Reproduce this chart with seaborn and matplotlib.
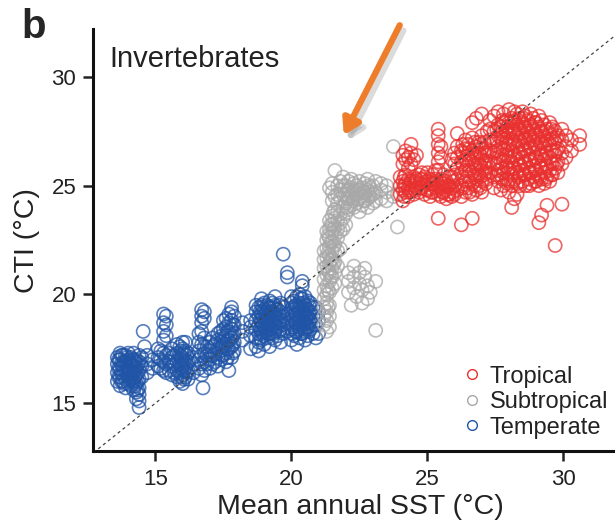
import pandas as pd
import matplotlib
matplotlib.use("Agg")
import matplotlib.pyplot as plt
import seaborn as sns
from matplotlib.lines import Line2D

# Values: each entry is (SST, [CTI values at that SST])
temperate_cols = [
    (13.6, [16.0, 16.4, 16.8, 17.1]),
    (13.7, [15.8, 16.2, 16.6, 17.0, 17.3]),
    (13.8, [16.0, 16.3, 16.7, 17.2]),
    (13.9, [15.7, 16.1, 16.5, 16.9, 17.2]),
    (14.0, [15.9, 16.3, 16.6, 17.0, 17.3]),
    (14.1, [15.8, 16.2, 16.5, 16.8, 17.1]),
    (14.2, [15.6, 16.0, 16.4, 16.7, 17.0, 17.3]),
    (14.3, [15.2, 15.5, 15.9, 16.3, 16.6, 17.0]),
    (14.4, [14.8, 15.1, 15.4, 15.7, 16.1, 16.5, 16.9, 17.2]),
    (14.5, [16.2, 16.7, 17.1]),
    (14.55, [18.3]),
    (14.6, [17.6]),
    (14.7, [16.4, 16.8, 17.2]),
    (14.9, [16.6, 17.0]),
    (15.1, [16.7, 17.1, 17.5]),
    (15.3, [16.5, 16.9, 17.3, 17.9, 18.3, 18.7, 19.1]),
    (15.4, [16.4, 16.8, 17.2, 18.1, 18.6, 19.0]),
    (15.6, [16.3, 16.7, 17.1, 17.5]),
    (15.8, [16.2, 16.5, 16.9, 17.3, 17.7]),
    (15.9, [16.0, 16.4, 16.8, 17.2, 17.6]),
    (16.0, [15.9, 16.3, 16.7, 17.1, 17.5, 17.8]),
    (16.1, [16.2, 16.6, 17.0, 17.4, 17.8]),
    (16.2, [16.1, 16.5, 16.9, 17.3]),
    (16.4, [16.4, 16.8, 17.1]),
    (16.6, [16.6, 17.0, 17.4, 17.8, 18.2]),
    (16.7, [16.3, 16.8, 17.2, 17.7, 18.3, 18.7, 19.0, 19.3]),
    (16.75, [15.7]),
    (16.8, [16.5, 16.9, 17.3, 17.6, 18.0, 18.9, 19.2]),
    (17.0, [16.6, 17.0, 17.4, 17.8]),
    (17.1, [16.8, 17.2, 17.6, 18.0]),
    (17.3, [16.7, 17.1, 17.5, 17.9, 18.2]),
    (17.4, [17.0, 17.4, 17.8, 18.3]),
    (17.5, [17.2, 17.6, 18.0, 18.4, 18.8]),
    (17.6, [16.9, 17.3, 17.7, 18.1, 18.5, 18.9]),
    (17.7, [16.5, 17.5, 17.9, 18.3, 18.7, 19.1]),
    (17.8, [17.1, 17.6, 18.0, 18.4, 18.8, 19.2, 19.4]),
    (17.9, [17.4, 17.8, 18.2, 18.6, 19.0]),
    (18.2, [17.9, 18.3, 18.7]),
    (18.5, [17.5, 18.1, 18.5, 18.8]),
    (18.7, [17.6, 18.0, 18.4, 18.8, 19.2, 19.5]),
    (18.8, [17.4, 17.8, 18.2, 18.6, 19.0, 19.4]),
    (18.9, [17.9, 18.3, 18.7, 19.1, 19.5, 19.8]),
    (19.0, [17.7, 18.1, 18.5, 18.9, 19.3, 19.6]),
    (19.1, [18.0, 18.4, 18.8, 19.2, 19.5]),
    (19.2, [17.6, 18.2, 18.6, 19.0, 19.4, 19.7]),
    (19.3, [18.0, 18.4, 18.8, 19.2, 19.6]),
    (19.4, [17.9, 18.3, 18.7, 19.1, 19.5, 19.9]),
    (19.5, [18.1, 18.5, 18.9, 19.3]),
    (19.6, [17.8, 18.4, 18.8, 19.2, 19.6]),
    (19.7, [18.2, 18.6, 19.0, 19.4, 21.85]),
    (19.85, [18.3, 18.7, 19.1, 20.8, 21.0]),
    (20.0, [17.9, 18.4, 18.8, 19.2, 19.6, 19.9]),
    (20.1, [18.1, 18.5, 18.9, 19.3, 19.7]),
    (20.2, [17.7, 18.3, 18.7, 19.1, 19.5, 19.9]),
    (20.3, [18.0, 18.4, 18.8, 19.2, 19.6, 20.0]),
    (20.4, [18.2, 18.6, 19.0, 19.4, 19.8, 20.4, 20.6]),
    (20.5, [17.9, 18.3, 18.7, 19.1, 19.5, 19.9]),
    (20.6, [18.1, 18.5, 18.9, 19.3, 19.7]),
    (20.7, [18.4, 18.8, 19.2, 19.6]),
    (20.9, [18.0, 18.6, 19.0, 19.4]),
    (21.0, [18.2, 18.8, 19.2]),
    # second pass over the dense cores
    (13.65, [16.2, 16.6, 17.0]),
    (13.75, [16.0, 16.4, 16.8, 17.2]),
    (13.85, [15.9, 16.5, 16.9]),
    (13.95, [16.3, 16.7, 17.1]),
    (14.05, [16.1, 16.5, 16.9]),
    (14.15, [16.0, 16.3, 16.7, 17.0]),
    (14.25, [15.8, 16.2, 16.6, 16.9]),
    (14.35, [15.6, 16.0, 16.4, 16.8]),
    (15.2, [16.6, 17.0, 17.4]),
    (15.5, [16.5, 16.9, 17.3]),
    (15.7, [16.4, 16.8, 17.2]),
    (15.95, [16.2, 16.6, 17.0, 17.4]),
    (16.05, [16.1, 16.5, 16.9, 17.3]),
    (16.15, [16.4, 16.8, 17.2]),
    (16.9, [16.8, 17.2, 17.6]),
    (17.2, [16.9, 17.3, 17.7]),
    (17.45, [17.2, 17.6, 18.1]),
    (17.65, [17.1, 17.5, 17.9, 18.3]),
    (17.85, [17.3, 17.7, 18.1, 18.6]),
    (18.85, [18.0, 18.4, 18.8, 19.2]),
    (18.95, [18.2, 18.6, 19.0, 19.4]),
    (19.05, [18.3, 18.7, 19.1]),
    (19.15, [18.2, 18.6, 19.0, 19.4]),
    (19.25, [18.4, 18.8, 19.2]),
    (19.35, [18.2, 18.6, 19.0, 19.4]),
    (19.45, [18.5, 18.9, 19.3]),
    (19.55, [18.3, 18.7, 19.1, 19.5]),
    (20.05, [18.2, 18.6, 19.0, 19.4]),
    (20.15, [18.3, 18.7, 19.1, 19.5]),
    (20.25, [18.5, 18.9, 19.3]),
    (20.35, [18.2, 18.6, 19.0, 19.4, 19.8]),
    (20.45, [18.4, 18.8, 19.2, 19.6]),
    (20.55, [18.5, 18.9, 19.3]),
    (20.65, [18.3, 18.7, 19.1, 19.5]),
    (20.8, [18.2, 18.6, 19.0, 19.4]),
]

subtropical_cols = [
    (21.2, [18.6, 19.0, 19.4, 19.8, 20.2, 20.7, 21.2, 21.6, 22.0]),
    (21.3, [18.3, 18.8, 19.2, 19.6, 20.0, 20.4, 20.9, 21.3, 21.7, 22.1, 22.5, 22.9]),
    (21.4, [18.5, 19.0, 19.5, 20.1, 20.6, 21.0, 21.4, 21.8, 22.2, 22.6, 23.0, 23.4, 24.9]),
    (21.5, [20.3, 20.8, 21.2, 21.6, 22.0, 22.4, 22.8, 23.2, 23.6, 24.3, 24.7, 25.1]),
    (21.6, [20.5, 21.0, 21.5, 21.9, 22.3, 22.7, 23.1, 23.5, 23.9, 24.5, 25.7]),
    (21.7, [21.3, 22.0, 22.6, 23.0, 23.4, 23.8, 24.2, 24.6, 25.0]),
    (21.8, [22.1, 22.9, 23.3, 23.7, 24.4, 24.8, 25.2]),
    (21.9, [23.0, 23.5, 24.0, 24.6, 25.0, 25.4]),
    (22.0, [23.2, 23.7, 24.2, 24.6, 25.0]),
    (22.1, [20.1, 20.6, 21.0, 23.9, 24.4, 24.8, 25.2]),
    (22.2, [19.5, 24.1, 24.5, 24.9, 25.3]),
    (22.3, [20.3, 20.8, 21.3, 24.0, 24.4, 24.8, 25.1]),
    (22.4, [19.9, 24.2, 24.6, 25.0]),
    (22.5, [20.5, 21.0, 23.8, 24.4, 24.8, 25.2]),
    (22.6, [19.6, 20.2, 24.1, 24.5, 24.9]),
    (22.7, [20.8, 21.2, 24.3, 24.7, 25.1]),
    (22.8, [19.8, 20.4, 24.0, 24.4, 24.8, 25.3]),
    (22.9, [20.1, 24.5, 24.9]),
    (23.0, [24.2, 24.6, 25.0]),
    (23.1, [18.35, 20.6, 24.3, 24.7, 25.2]),
    (23.3, [24.4, 24.8, 25.1]),
    (23.5, [24.3, 24.7, 25.0]),
    (23.75, [24.5, 26.8]),
    (23.9, [23.1, 24.6]),
    # second pass over the dense cores
    (21.35, [19.4, 20.2, 21.1, 21.9, 22.7]),
    (21.45, [20.8, 21.6, 22.4, 23.2]),
    (21.55, [21.4, 22.2, 23.0, 23.8]),
    (22.05, [24.0, 24.4, 24.8]),
    (22.25, [24.3, 24.7]),
    (22.45, [24.4, 24.8]),
    (22.65, [24.3, 24.7]),
    (22.85, [24.6, 25.0]),
]

tropical_cols = [
    (24.0, [24.6, 25.0, 25.4]),
    (24.1, [24.3, 24.8, 25.2, 26.0, 26.4]),
    (24.2, [24.7, 25.1, 25.5, 26.2, 26.6]),
    (24.3, [24.5, 24.9, 25.3, 25.8, 26.3]),
    (24.4, [24.8, 25.2, 26.0, 26.5, 26.9]),
    (24.5, [24.6, 25.0, 25.4, 26.2]),
    (24.6, [24.9, 25.3, 26.4]),
    (24.7, [24.7, 25.1, 25.5]),
    (24.8, [24.9, 25.3, 25.6]),
    (24.9, [24.6, 25.0, 25.4]),
    (25.0, [24.8, 25.2, 25.6]),
    (25.1, [24.5, 24.9, 25.3]),
    (25.2, [24.7, 25.1, 25.5]),
    (25.3, [24.9, 25.3, 25.7]),
    (25.4, [23.5, 24.6, 25.0, 25.7, 26.1, 26.5, 26.9, 27.3, 27.6]),
    (25.5, [24.5, 24.9, 25.3, 26.3, 26.8]),
    (25.6, [24.7, 25.1, 25.5]),
    (25.7, [24.4, 24.8, 25.2]),
    (25.8, [24.6, 25.0, 25.4]),
    (25.9, [24.5, 24.9, 25.4, 26.2]),
    (26.0, [24.6, 25.0, 25.5, 26.0, 26.5]),
    (26.1, [24.8, 25.3, 25.8, 26.3, 26.8, 27.4]),
    (26.25, [23.2, 24.5, 25.0, 25.6, 26.1, 26.6]),
    (26.4, [24.7, 25.2, 25.7, 26.2, 26.7, 27.1]),
    (26.5, [24.9, 25.4, 25.9, 26.4, 26.9]),
    (26.65, [23.5, 24.6, 25.1, 25.6, 26.1, 26.6, 27.2, 27.9]),
    (26.8, [24.8, 25.3, 25.8, 26.3, 26.8, 28.1]),
    (26.9, [25.0, 25.5, 26.0, 26.5, 27.0]),
    (27.0, [24.7, 25.2, 25.7, 26.2, 26.7, 27.3, 28.3]),
    (27.1, [25.5, 26.0, 26.5, 27.0]),
    (27.2, [25.3, 25.8, 26.4, 27.5]),
    (27.3, [25.6, 26.1, 26.6, 27.1, 27.6, 28.0]),
    (27.45, [24.9, 25.4, 26.0, 26.5, 27.0, 27.5, 28.2]),
    (27.6, [25.2, 25.7, 26.3, 26.8, 27.3, 27.8, 28.4]),
    (27.7, [24.8, 25.5, 26.1, 26.7, 27.2, 27.7]),
    (27.8, [25.0, 25.6, 26.2, 26.7, 27.3, 27.9, 28.3]),
    (27.9, [25.3, 25.9, 26.4, 27.0, 27.5, 28.0]),
    (28.0, [24.7, 25.2, 25.8, 26.3, 26.9, 27.4, 27.9, 28.5]),
    (28.1, [24.0, 25.0, 25.5, 26.1, 26.6, 27.1, 27.6, 28.1]),
    (28.2, [24.4, 25.3, 25.8, 26.4, 27.0, 27.5, 28.0, 28.4]),
    (28.3, [24.6, 25.1, 25.6, 26.2, 26.8, 27.3, 27.8, 28.3]),
    (28.4, [25.0, 25.5, 26.0, 26.5, 27.1, 27.6, 28.1]),
    (28.5, [25.2, 25.7, 26.3, 26.9, 27.4, 27.9, 28.4]),
    (28.6, [25.0, 25.5, 26.1, 26.7, 27.2, 27.7, 28.2]),
    (28.7, [25.3, 25.8, 26.4, 27.0, 27.5, 28.0]),
    (28.8, [25.1, 25.6, 26.2, 26.8, 27.3, 27.8, 28.3]),
    (28.9, [25.4, 25.9, 26.5, 27.1, 27.6, 28.1]),
    (29.0, [25.2, 25.7, 26.3, 26.9, 27.4, 27.9]),
    (29.1, [23.3, 25.0, 25.5, 26.1, 26.7, 27.2, 27.7, 28.2]),
    (29.2, [23.65, 25.3, 25.8, 26.4, 27.0, 27.5, 28.0]),
    (29.3, [25.1, 25.6, 26.2, 26.8, 27.3, 27.8]),
    (29.4, [24.1, 25.4, 25.9, 26.5, 27.1, 27.6]),
    (29.5, [25.2, 25.7, 26.3, 26.9, 27.4, 27.9]),
    (29.6, [25.5, 26.0, 26.6, 27.2, 27.7]),
    (29.7, [22.25, 25.8, 26.4, 27.0, 27.5]),
    (29.8, [25.6, 26.1, 26.7, 27.3]),
    (29.95, [24.15, 26.0, 26.5, 27.1, 27.6]),
    (30.1, [26.3, 26.8, 27.3]),
    (30.3, [26.6, 27.1]),
    (30.6, [26.9, 27.3]),
    # second pass over the dense cores
    (24.15, [24.5, 25.0, 25.4]),
    (24.35, [24.7, 25.1]),
    (24.55, [24.8, 25.2]),
    (24.75, [24.9, 25.3]),
    (24.95, [24.8, 25.2]),
    (25.15, [24.7, 25.1]),
    (25.35, [24.8, 25.2]),
    (25.55, [24.7, 25.1]),
    (25.75, [24.6, 25.0]),
    (25.95, [24.7, 25.2]),
    (26.3, [24.9, 25.4, 26.0, 26.5, 26.9]),
    (26.55, [24.7, 25.2, 25.7, 26.2, 26.7]),
    (26.75, [25.0, 25.5, 26.0, 26.5, 27.0]),
    (26.95, [24.9, 25.4, 25.9, 26.4, 26.9]),
    (27.15, [25.1, 25.6, 26.1, 26.7]),
    (27.55, [25.5, 26.0, 26.6, 27.1, 27.6]),
    (27.75, [25.3, 25.8, 26.4, 27.0, 27.5, 28.0]),
    (27.95, [25.1, 25.6, 26.1, 26.7, 27.2, 27.7]),
    (28.15, [25.2, 25.8, 26.3, 26.9, 27.4, 27.9]),
    (28.35, [25.4, 25.9, 26.5, 27.0, 27.6, 28.0]),
    (28.55, [25.5, 26.0, 26.6, 27.1, 27.7, 28.1]),
    (28.75, [25.0, 25.6, 26.1, 26.7, 27.2, 27.7]),
    (28.95, [25.2, 25.7, 26.2, 26.8, 27.3, 27.9]),
    (29.15, [25.4, 25.9, 26.5, 27.0, 27.5]),
    (29.35, [25.3, 25.8, 26.4, 26.9, 27.5]),
    (29.55, [25.5, 26.1, 26.6, 27.1, 27.6]),
    (29.75, [26.0, 26.6, 27.2]),
]

groups = ["Temperate", "Subtropical", "Tropical"]
colors = {"Tropical": "#E8302F", "Subtropical": "#A8A8A8", "Temperate": "#2054A6"}

rows = []
for name, cols in zip(groups, [temperate_cols, subtropical_cols, tropical_cols]):
    for sst, ctis in cols:
        for cti in ctis:
            rows.append({"sst": sst, "cti": cti, "zone": name})
df = pd.DataFrame(rows)

sns.set_style("ticks")
plt.rcParams["font.family"] = ["Liberation Sans", "DejaVu Sans"]

fig = plt.figure(figsize=(6.15, 5.26), dpi=100)
ax = fig.add_axes([0.151, 0.1426, 0.849, 0.802])

# 1:1 line
ax.plot([12.0, 33.0], [12.0, 33.0], ls=(0, (2.5, 2.5)), color="#444444", lw=0.9, zorder=5)

sns.scatterplot(data=df, x="sst", y="cti", hue="zone", palette=colors,
                s=90, alpha=0.75, linewidth=1.2, legend=False, ax=ax)
# turn the filled markers into open circles
for coll in ax.collections:
    fc = coll.get_facecolors()
    coll.set_edgecolors(fc)
    coll.set_facecolors("none")

ax.set_xlim(12.7, 31.9)
ax.set_ylim(12.8, 32.2)
ax.set_xticks([15, 20, 25, 30])
ax.set_yticks([15, 20, 25, 30])
ax.tick_params(labelsize=16, length=7, width=1.8, colors="#222222")
ax.tick_params(axis="x", pad=6)
ax.tick_params(axis="y", pad=5)
for side in ["left", "bottom"]:
    ax.spines[side].set_linewidth(2.2)
    ax.spines[side].set_color("#111111")
sns.despine(ax=ax)

ax.set_xlabel("Mean annual SST (°C)", fontsize=20.5, color="#222222")
ax.set_ylabel("CTI (°C)", fontsize=20.5, color="#222222", labelpad=8)
ax.xaxis.set_label_coords(0.513, -0.102)

ax.text(0.032, 0.962, "Invertebrates", transform=ax.transAxes, fontsize=21,
        color="#222222", va="top", ha="left")
fig.text(0.035, 0.985, "b", fontsize=29, fontweight="bold", va="top", ha="left")

handles = [Line2D([], [], ls="none", marker="o", ms=7, mfc="none", mew=1.0,
                  mec=colors[g]) for g in ["Tropical", "Subtropical", "Temperate"]]
fig.legend(handles, ["Tropical", "Subtropical", "Temperate"], loc="upper left",
           bbox_to_anchor=(0.756, 0.305), frameon=False, fontsize=17,
           handletextpad=0.45, labelspacing=0.15, borderpad=0, borderaxespad=0,
           handlelength=0.6, labelcolor="#222222")

# orange arrow with a soft shadow
ax.annotate("", xy=(0.566, 0.733), xycoords="figure fraction",
            xytext=(0.656, 0.942), textcoords="figure fraction",
            arrowprops=dict(arrowstyle="-|>,head_length=0.9,head_width=0.55",
                            lw=4.5, color="#999999", alpha=0.35, shrinkA=0, shrinkB=0),
            annotation_clip=False)
ax.annotate("", xy=(0.559, 0.743), xycoords="figure fraction",
            xytext=(0.650, 0.952), textcoords="figure fraction",
            arrowprops=dict(arrowstyle="-|>,head_length=0.9,head_width=0.55",
                            lw=4.5, color="#EE7D2B", shrinkA=0, shrinkB=0),
            annotation_clip=False)

fig.savefig("out.png", dpi=100)
